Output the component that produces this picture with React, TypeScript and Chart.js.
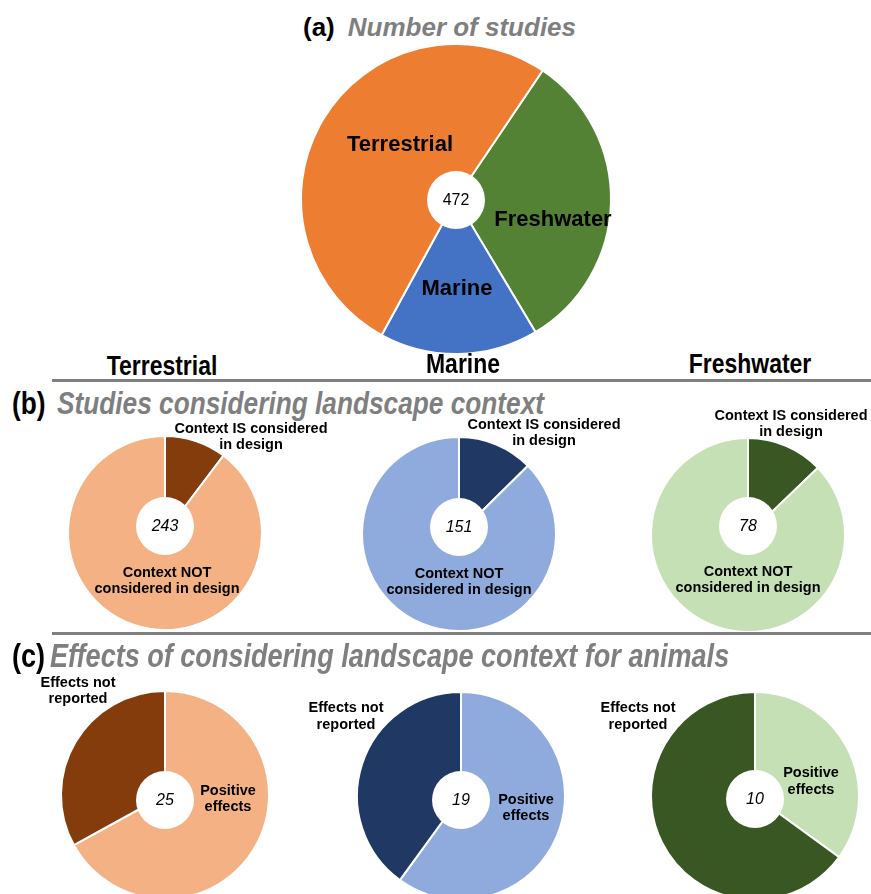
import React, { useEffect, useRef } from "react";
import { Chart, registerables } from "chart.js";
Chart.register(...registerables);

// ---------- data ----------
// (a) number of studies per habitat
const habitatLabels = ["Freshwater", "Marine", "Terrestrial"];
const habitatStudies = [151, 78, 243];
const totalStudies = 472;

// (b) studies considering landscape context
const contextLabels = ["Context IS considered in design", "Context NOT considered in design"];
const contextTerrestrial = [25, 218];
const contextMarine = [19, 132];
const contextFreshwater = [10, 68];
const contextTotals = [243, 151, 78];

// (c) effects of considering landscape context for animals (share of studies, %)
const effectLabels = ["Positive effects", "Effects not reported"];
const effectsTerrestrial = [67, 33];
const effectsMarine = [60, 40];
const effectsFreshwater = [35, 65];
const effectTotals = [25, 19, 10];

const columnHeaders = ["Terrestrial", "Marine", "Freshwater"];

// ---------- styles ----------
const SANS = '"Liberation Sans", Arial, Helvetica, sans-serif';
const GRAY = "#7f7f7f";
const NARROW_SCALE = 0.82;

const habitatColors = ["#548235", "#4472C4", "#ED7D31"];
const terrColors = ["#843C0C", "#F4B183"];
const marColors = ["#1F3864", "#8FAADC"];
const freshColors = ["#385723", "#C5E0B4"];

type PieProps = {
  labels: string[];
  values: number[];
  colors: string[];
  cx: number;
  cy: number;
  r: number;
  rotation?: number;
  centerText: string;
  holeR: number;
  holeDy?: number;
  italic?: boolean;
};

function Pie(p: PieProps) {
  const ref = useRef<HTMLCanvasElement>(null);
  const size = Math.ceil(2 * p.r + 8);
  useEffect(() => {
    const holePlugin = {
      id: "hole",
      afterDatasetsDraw(chart: any) {
        const arc = chart.getDatasetMeta(0).data[0] as any;
        const ctx = chart.ctx as CanvasRenderingContext2D;
        const x = arc.x;
        const y = arc.y + (p.holeDy || 0);
        ctx.save();
        ctx.beginPath();
        ctx.arc(x, y, p.holeR, 0, Math.PI * 2);
        ctx.fillStyle = "#ffffff";
        ctx.fill();
        ctx.fillStyle = "#000";
        ctx.font = `${p.italic ? "italic " : ""}16px ${SANS}`;
        ctx.textAlign = "center";
        ctx.textBaseline = "middle";
        ctx.fillText(p.centerText, x, y + 1);
        ctx.restore();
      },
    };
    const chart = new Chart(ref.current!, {
      type: "pie",
      data: {
        labels: p.labels,
        datasets: [
          {
            data: p.values,
            backgroundColor: p.colors,
            borderColor: "#ffffff",
            borderWidth: 2,
            hoverBorderWidth: 2,
            hoverOffset: 0,
          } as any,
        ],
      },
      options: {
        animation: false,
        responsive: false,
        maintainAspectRatio: false,
        rotation: p.rotation || 0,
        radius: p.r,
        layout: { padding: 0 },
        events: [],
        plugins: { legend: { display: false }, tooltip: { enabled: false } },
      } as any,
      plugins: [holePlugin],
    });
    return () => chart.destroy();
  }, []);
  return (
    <canvas
      ref={ref}
      width={size}
      height={size}
      style={{ position: "absolute", left: p.cx - size / 2, top: p.cy - size / 2, width: size, height: size }}
    />
  );
}

type TxtProps = {
  x: number;
  base: number;
  size: number;
  lines: React.ReactNode[];
  lh?: number;
  weight?: string;
  italic?: boolean;
  color?: string;
  align?: "center" | "left";
  narrow?: boolean;
};

function Txt({ x, base, size, lines, lh, weight = "bold", italic = false, color = "#000", align = "center", narrow = false }: TxtProps) {
  const L = lh ?? Math.round(size * 1.15);
  const top = base - ((L - 1.117 * size) / 2 + 0.905 * size);
  const sx = narrow ? ` scaleX(${NARROW_SCALE})` : "";
  const style: React.CSSProperties = {
    position: "absolute",
    top,
    left: x,
    fontSize: size,
    lineHeight: `${L}px`,
    fontWeight: weight as any,
    fontStyle: italic ? "italic" : "normal",
    color,
    fontFamily: SANS,
    whiteSpace: "nowrap",
    textAlign: align,
  };
  if (align === "center") {
    style.transform = `translateX(-50%)${sx}`;
    style.transformOrigin = "center";
  } else if (narrow) {
    style.transform = sx.trim();
    style.transformOrigin = "left center";
  }
  return (
    <div style={style}>
      {lines.map((l, i) => (
        <div key={i}>{l}</div>
      ))}
    </div>
  );
}

function Rule({ y }: { y: number }) {
  return <div style={{ position: "absolute", left: 52, top: y, width: 871 - 52, height: 3, background: "#808080" }} />;
}

export default function App() {
  return (
    <div style={{ position: "absolute", left: 0, top: 0, width: 871, height: 894, overflow: "hidden", background: "#fff" }}>
      {/* (a) */}
      <Txt
        x={303}
        base={36}
        size={26}
        align="left"
        lines={[
          <>
            <span style={{ color: "#000" }}>(a)</span>
            <span style={{ color: GRAY, fontStyle: "italic", marginLeft: 13 }}>Number of studies</span>
          </>,
        ]}
      />
      <Pie
        labels={habitatLabels}
        values={habitatStudies}
        colors={habitatColors}
        cx={456}
        cy={199}
        r={155}
        rotation={34}
        centerText={String(totalStudies)}
        holeR={29}
        holeDy={1}
      />
      <Txt x={400} base={151} size={22} lines={[habitatLabels[2]]} />
      <Txt x={553} base={226} size={22} lines={[habitatLabels[0]]} />
      <Txt x={457} base={295} size={22} lines={[habitatLabels[1]]} />

      {/* column headers */}
      <Txt x={162} base={376} size={28} narrow lines={[columnHeaders[0]]} />
      <Txt x={463} base={374} size={28} narrow lines={[columnHeaders[1]]} />
      <Txt x={750} base={374} size={28} narrow lines={[columnHeaders[2]]} />
      <Rule y={379} />

      {/* (b) */}
      <Txt
        x={12}
        base={415}
        size={32}
        align="left"
        narrow
        lines={[
          <>
            <span style={{ color: "#000" }}>(b)</span>
            <span style={{ color: GRAY, fontStyle: "italic", marginLeft: 14 }}>Studies considering landscape context</span>
          </>,
        ]}
      />
      <Pie labels={contextLabels} values={contextTerrestrial} colors={terrColors} cx={165} cy={533} r={97} centerText={String(contextTotals[0])} holeR={29} holeDy={-7} italic />
      <Pie labels={contextLabels} values={contextMarine} colors={marColors} cx={459} cy={534} r={97} centerText={String(contextTotals[1])} holeR={29} holeDy={-7} italic />
      <Pie labels={contextLabels} values={contextFreshwater} colors={freshColors} cx={748} cy={535} r={97} centerText={String(contextTotals[2])} holeR={29} holeDy={-9} italic />

      <Txt x={251} base={433} size={14.5} lh={16.5} lines={["Context IS considered", "in design"]} />
      <Txt x={544} base={429} size={14.5} lh={16.5} lines={["Context IS considered", "in design"]} />
      <Txt x={791} base={420} size={14.5} lh={16.5} lines={["Context IS considered", "in design"]} />
      <Txt x={167} base={577} size={14.5} lh={16} lines={["Context NOT", "considered in design"]} />
      <Txt x={459} base={578} size={14.5} lh={16} lines={["Context NOT", "considered in design"]} />
      <Txt x={748} base={576} size={14.5} lh={16.5} lines={["Context NOT", "considered in design"]} />
      <Rule y={632} />

      {/* (c) */}
      <Txt
        x={12}
        base={667}
        size={33}
        align="left"
        narrow
        lines={[
          <>
            <span style={{ color: "#000" }}>(c)</span>
            <span style={{ color: GRAY, fontStyle: "italic", marginLeft: 6 }}>Effects of considering landscape context for animals</span>
          </>,
        ]}
      />
      <Pie labels={effectLabels} values={effectsTerrestrial} colors={[terrColors[1], terrColors[0]]} cx={165} cy={795} r={104} centerText={String(effectTotals[0])} holeR={29} holeDy={5} italic />
      <Pie labels={effectLabels} values={effectsMarine} colors={[marColors[1], marColors[0]]} cx={461} cy={796} r={104} centerText={String(effectTotals[1])} holeR={29} holeDy={4} italic />
      <Pie labels={effectLabels} values={effectsFreshwater} colors={[freshColors[1], freshColors[0]]} cx={755} cy={796} r={104} centerText={String(effectTotals[2])} holeR={29} holeDy={3} italic />

      <Txt x={78} base={687} size={14.5} lh={16.5} lines={["Effects not", "reported"]} />
      <Txt x={346} base={713} size={14.5} lh={17} lines={["Effects not", "reported"]} />
      <Txt x={638} base={713} size={14.5} lh={17} lines={["Effects not", "reported"]} />
      <Txt x={228} base={795} size={14.5} lh={16} lines={["Positive", "effects"]} />
      <Txt x={526} base={804} size={14.5} lh={16} lines={["Positive", "effects"]} />
      <Txt x={811} base={778} size={14.5} lh={17} lines={["Positive", "effects"]} />
    </div>
  );
}
